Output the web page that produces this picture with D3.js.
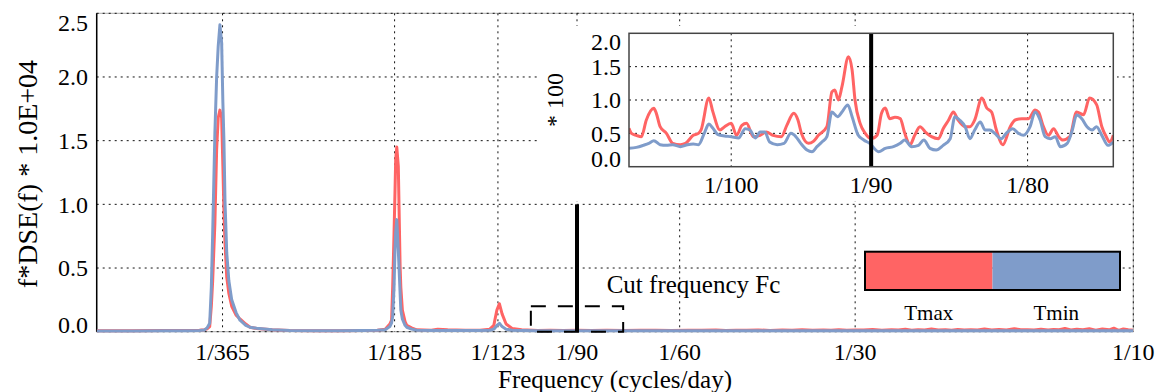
<!DOCTYPE html>
<html>
<head>
<meta charset="utf-8">
<script src="https://cdn.jsdelivr.net/npm/d3@7"></script>
<style>
  body { margin: 0; background: #fff; }
  svg { display: block; font-family: "Liberation Serif", "DejaVu Serif", serif; }
</style>
</head>
<body>
<svg id="chart" width="1159" height="392"></svg>
<script>
// ---- data ----
// main spectrum: period in days (x = 1/period), f*DSE(f) * 1e4
const mainPeriods = [600, 520, 460, 420, 400, 392, 388, 384, 381.5, 379.5, 376.2, 373.6, 371.3, 368.8, 366.3, 364.5, 363, 361.5, 359, 356, 352, 346, 340.7, 333, 327.5, 319, 300, 280, 250, 230, 210, 198, 192, 188.5, 187.2, 186.4, 185.4, 184.7, 184.2, 183.4, 182.3, 181, 180.5, 179.4, 177.5, 176.3, 173, 169.5, 160, 156, 150, 140, 132, 127, 125, 124.4, 123.5, 122.3, 121, 119.1, 116.3, 112, 105, 100, 95, 90, 85, 80, 75, 70, 66, 62, 58, 55, 52, 50, 48, 46, 44, 42, 40, 38.5, 37, 35.5, 34, 33, 32, 31, 30, 29, 28, 27, 26, 25.3, 24.6, 24, 23.4, 22.8, 22.2, 21.6, 21, 20.5, 20, 19.5, 19, 18.5, 18, 17.5, 17, 16.5, 16, 15.6, 15.2, 14.8, 14.4, 14, 13.7, 13.4, 13.1, 12.8, 12.5, 12.2, 11.9, 11.6, 11.3, 11, 10.8, 10.6, 10.4, 10.2, 10];
const mainTmax = [0.008, 0.008, 0.009, 0.010, 0.012, 0.016, 0.022, 0.040, 0.20, 0.40, 0.85, 1.43, 1.68, 1.74, 1.68, 1.30, 0.95, 0.70, 0.43, 0.30, 0.20, 0.13, 0.10, 0.06, 0.035, 0.025, 0.015, 0.010, 0.008, 0.008, 0.009, 0.012, 0.020, 0.06, 0.09, 0.35, 0.77, 1.10, 1.35, 1.45, 1.30, 0.51, 0.35, 0.17, 0.08, 0.05, 0.03, 0.015, 0.012, 0.020, 0.015, 0.012, 0.012, 0.020, 0.05, 0.10, 0.17, 0.22, 0.14, 0.06, 0.025, 0.015, 0.010, 0.012, 0.010, 0.012, 0.010, 0.012, 0.010, 0.012,
  0.011, 0.010, 0.012, 0.011, 0.013, 0.010, 0.012, 0.011, 0.014, 0.010, 0.013, 0.012, 0.015, 0.011, 0.013, 0.012, 0.016, 0.011, 0.014, 0.013, 0.018, 0.012, 0.015, 0.013, 0.019, 0.012, 0.016, 0.014, 0.021, 0.013, 0.015, 0.012, 0.018, 0.014, 0.016, 0.013, 0.022, 0.014, 0.017, 0.013, 0.024, 0.015, 0.016, 0.013, 0.020, 0.014, 0.018, 0.015, 0.026, 0.013, 0.019, 0.016, 0.024, 0.012, 0.021, 0.015, 0.028, 0.010, 0.022, 0.016, 0.012];
const mainTmin = [0.006, 0.006, 0.007, 0.008, 0.010, 0.014, 0.030, 0.066, 0.35, 0.77, 1.56, 2.00, 2.24, 2.41, 2.27, 1.80, 1.50, 1.03, 0.62, 0.40, 0.25, 0.15, 0.09, 0.05, 0.035, 0.027, 0.015, 0.010, 0.008, 0.008, 0.009, 0.011, 0.015, 0.04, 0.07, 0.12, 0.35, 0.64, 0.78, 0.88, 0.64, 0.30, 0.17, 0.10, 0.05, 0.035, 0.02, 0.012, 0.009, 0.010, 0.009, 0.009, 0.009, 0.012, 0.02, 0.03, 0.05, 0.066, 0.04, 0.02, 0.012, 0.010, 0.008, 0.008, 0.008, 0.008, 0.008, 0.008, 0.008, 0.008,
  0.008, 0.008, 0.008, 0.007, 0.008, 0.008, 0.008, 0.008, 0.007, 0.008, 0.008, 0.008, 0.008, 0.007, 0.008, 0.008, 0.008, 0.008, 0.008, 0.007, 0.008, 0.008, 0.008, 0.007, 0.008, 0.008, 0.008, 0.007, 0.008, 0.008, 0.008, 0.007, 0.008, 0.008, 0.007, 0.008, 0.008, 0.007, 0.008, 0.008, 0.008, 0.007, 0.008, 0.008, 0.008, 0.007, 0.008, 0.008, 0.008, 0.007, 0.008, 0.008, 0.008, 0.007, 0.008, 0.008, 0.008, 0.007, 0.008, 0.008, 0.008];

// zoom window (values * 100)
const insetTmaxPeriods = [108, 107.8, 107.4, 107, 106.6, 106, 105.8, 105.5, 105, 104.5, 103.9, 103.5, 102.9, 102.5, 102.3, 101.7, 101.4, 100.85, 100.5, 100, 99.6, 99.2, 98.85, 98.35, 97.85, 97.4, 96.9, 96.3, 95.9, 95.4, 95.1, 94.85, 94.35, 94, 93.65, 93.05, 92.7, 92.5, 92.25, 92, 91.55, 91.3, 91.1, 90.75, 90.4, 90, 89.6, 89.3, 89.05, 88.75, 88.4, 88.05, 87.75, 87.4, 87.1, 86.75, 86.4, 86, 85.55, 85.25, 84.9, 84.6, 84.3, 83.85, 83.55, 83.25, 82.8, 82.5, 82.2, 81.9, 81.5, 81.05, 80.75, 80.35, 79.95, 79.55, 79.35, 79.05, 78.75, 78.45, 78.15, 77.9, 77.5, 77.1, 76.7, 76.35, 75.95, 75.65, 75.4, 75.2, 75];
const insetTmaxValues = [0.575, 0.50, 0.47, 0.45, 0.70, 0.875, 0.80, 0.60, 0.50, 0.35, 0.33, 0.35, 0.47, 0.50, 0.55, 1.03, 0.83, 0.55, 0.60, 0.65, 0.47, 0.62, 0.65, 0.45, 0.47, 0.52, 0.47, 0.45, 0.62, 0.80, 0.70, 0.50, 0.35, 0.38, 0.47, 0.60, 1.12, 1.15, 1.00, 1.20, 1.65, 1.45, 1.00, 0.65, 0.50, 0.42, 0.47, 0.80, 0.88, 0.72, 0.74, 0.72, 0.50, 0.33, 0.47, 0.60, 0.52, 0.45, 0.42, 0.57, 0.70, 0.82, 0.70, 0.60, 0.60, 0.70, 1.03, 0.88, 0.82, 0.55, 0.33, 0.60, 0.70, 0.72, 0.72, 0.85, 0.82, 0.60, 0.47, 0.57, 0.45, 0.40, 0.45, 0.82, 0.78, 1.03, 0.93, 0.60, 0.45, 0.37, 0.47];
const insetTminPeriods = [108, 107.4, 106.85, 106.4, 106, 105.5, 105, 104.5, 103.9, 103.35, 102.9, 102.5, 102.05, 101.7, 101.4, 101, 100.5, 100, 99.45, 98.95, 98.6, 98.2, 97.85, 97.5, 97.15, 96.6, 96.1, 95.6, 95.25, 94.9, 94.45, 94.1, 93.75, 93.4, 93.05, 92.7, 92.3, 92, 91.6, 91.3, 90.9, 90.5, 90.1, 89.5, 89.05, 88.5, 88.05, 87.75, 87.3, 86.85, 86.5, 86.1, 85.7, 85.25, 84.8, 84.5, 84.2, 83.85, 83.55, 83.25, 82.9, 82.6, 82.3, 82, 81.6, 81.3, 80.9, 80.55, 80.25, 79.85, 79.55, 79.25, 78.95, 78.65, 78.35, 78.05, 77.65, 77.35, 77.1, 76.8, 76.5, 76.2, 75.95, 75.65, 75.3, 75];
const insetTminValues = [0.275, 0.29, 0.32, 0.35, 0.39, 0.33, 0.32, 0.33, 0.30, 0.33, 0.34, 0.33, 0.50, 0.64, 0.58, 0.48, 0.46, 0.45, 0.43, 0.57, 0.55, 0.43, 0.52, 0.52, 0.37, 0.33, 0.35, 0.50, 0.45, 0.35, 0.25, 0.225, 0.30, 0.37, 0.45, 0.82, 0.75, 0.82, 0.925, 0.75, 0.48, 0.40, 0.35, 0.225, 0.275, 0.30, 0.35, 0.40, 0.30, 0.32, 0.40, 0.275, 0.25, 0.32, 0.42, 0.75, 0.70, 0.60, 0.42, 0.55, 0.67, 0.55, 0.55, 0.50, 0.42, 0.50, 0.57, 0.50, 0.47, 0.60, 0.82, 0.70, 0.45, 0.42, 0.45, 0.30, 0.35, 0.55, 0.775, 0.72, 0.60, 0.55, 0.60, 0.47, 0.32, 0.37];

// ticks
const mainXTicks = [365, 185, 123, 90, 60, 30, 10];
const mainYTicks = [0, 0.5, 1.0, 1.5, 2.0, 2.5];
const insetXTicks = [100, 90, 80];
const insetYTicks = [0, 0.5, 1.0, 1.5, 2.0];
const cutPeriod = 90;
const seriesNames = ["Tmax", "Tmin"];
const colors = ["#ff6464", "#7f9cca"];

const svg = d3.select("#chart");

// ---- main plot ----
const M = { left: 96.7, right: 1133.3, top: 13.3, bottom: 331.7 };
const x = d3.scaleLog().domain([1 / 600, 1 / 10]).range([M.left, M.right]);
const y = d3.scaleLinear().domain([0, 2.5]).range([M.bottom, M.top]);

svg.append("clipPath").attr("id", "clipMain")
  .append("rect")
  .attr("x", M.left).attr("y", M.top - 5)
  .attr("width", M.right - M.left).attr("height", M.bottom - M.top + 8);

// frame (light) then dotted grid
svg.append("rect")
  .attr("x", M.left).attr("y", M.top)
  .attr("width", M.right - M.left).attr("height", M.bottom - M.top)
  .attr("fill", "none").attr("stroke", "#aaa").attr("stroke-width", 1);

const grid = svg.append("g").attr("stroke", "#111").attr("stroke-width", 1).attr("stroke-dasharray", "2,4");
grid.selectAll(".gx").data(mainXTicks).join("line")
  .attr("x1", d => x(1 / d)).attr("x2", d => x(1 / d))
  .attr("y1", M.top).attr("y2", M.bottom);
grid.selectAll(".gy").data(mainYTicks).join("line")
  .attr("x1", M.left).attr("x2", M.right)
  .attr("y1", d => y(d)).attr("y2", d => y(d));

svg.append("line")
  .attr("x1", M.left).attr("x2", M.left)
  .attr("y1", M.top).attr("y2", M.bottom)
  .attr("stroke", "#000").attr("stroke-width", 1.5);

// tick labels
svg.append("g").selectAll("text").data(mainXTicks).join("text")
  .attr("x", d => x(1 / d)).attr("y", 359.5)
  .attr("text-anchor", "middle").style("font-size", "24px")
  .text(d => "1/" + d);

svg.append("g").selectAll("text").data(mainYTicks).join("text")
  .attr("x", 88)
  .attr("y", d => Math.min(Math.max(y(d), M.top + 9.5), M.bottom - 7))
  .attr("dy", "0.34em")
  .attr("text-anchor", "end").style("font-size", "24px")
  .text(d => d.toFixed(1));

svg.append("text")
  .attr("x", (M.left + M.right) / 2).attr("y", 388)
  .attr("text-anchor", "middle").style("font-size", "25px")
  .text("Frequency (cycles/day)");

svg.append("text")
  .attr("transform", "translate(37,174) rotate(-90)")
  .attr("text-anchor", "middle").style("font-size", "28px")
  .text("f*DSE(f) * 1.0E+04");

// spectra
const mainLine = d3.line()
  .x(d => x(1 / d[0]))
  .y(d => y(d[1]));

[mainTmax, mainTmin].forEach((vals, i) => {
  svg.append("path")
    .datum(mainPeriods.map((p, j) => [p, vals[j]]))
    .attr("clip-path", "url(#clipMain)")
    .attr("fill", "none")
    .attr("stroke", colors[i])
    .attr("stroke-width", 3)
    .attr("stroke-linejoin", "round")
    .attr("d", mainLine);
});

// cut frequency
svg.append("line")
  .attr("x1", x(1 / cutPeriod)).attr("x2", x(1 / cutPeriod))
  .attr("y1", y(0)).attr("y2", y(1.0))
  .attr("stroke", "#000").attr("stroke-width", 4);

svg.append("text")
  .attr("x", 606.7).attr("y", 293.3)
  .style("font-size", "25px")
  .text("Cut frequency Fc");

// dashed box marking the zoom window
svg.append("rect")
  .attr("x", x(1 / 108)).attr("y", y(0.2))
  .attr("width", x(1 / 75) - x(1 / 108)).attr("height", y(0) - y(0.2))
  .attr("fill", "none").attr("stroke", "#000").attr("stroke-width", 2)
  .attr("stroke-dasharray", "15,12");

// ---- inset ----
const I = { left: 629, right: 1113.3, top: 33.3, bottom: 166.7 };
const xi = d3.scaleLog().domain([1 / 108, 1 / 75]).range([I.left, I.right]);
const yi = d3.scaleLinear().domain([0, 2.0]).range([I.bottom, I.top]);

svg.append("rect")
  .attr("x", 538).attr("y", 26)
  .attr("width", 1117 - 538).attr("height", 201 - 26)
  .attr("fill", "#fff");

svg.append("clipPath").attr("id", "clipInset")
  .append("rect")
  .attr("x", I.left).attr("y", I.top)
  .attr("width", I.right - I.left).attr("height", I.bottom - I.top);

const igrid = svg.append("g").attr("stroke", "#111").attr("stroke-width", 1).attr("stroke-dasharray", "2,4");
igrid.selectAll(".gx").data(insetXTicks).join("line")
  .attr("x1", d => xi(1 / d)).attr("x2", d => xi(1 / d))
  .attr("y1", I.top).attr("y2", I.bottom);
igrid.selectAll(".gy").data(insetYTicks.slice(1, -1)).join("line")
  .attr("x1", I.left).attr("x2", I.right)
  .attr("y1", d => yi(d)).attr("y2", d => yi(d));

const insetLine = d3.line()
  .curve(d3.curveMonotoneX)
  .x(d => xi(1 / d[0]))
  .y(d => yi(d[1]));

[[insetTmaxPeriods, insetTmaxValues], [insetTminPeriods, insetTminValues]].forEach(([ps, vs], i) => {
  svg.append("path")
    .datum(ps.map((p, j) => [p, vs[j]]))
    .attr("clip-path", "url(#clipInset)")
    .attr("fill", "none")
    .attr("stroke", colors[i])
    .attr("stroke-width", 3)
    .attr("stroke-linejoin", "round")
    .attr("d", insetLine);
});

svg.append("line")
  .attr("x1", xi(1 / cutPeriod)).attr("x2", xi(1 / cutPeriod))
  .attr("y1", I.top).attr("y2", I.bottom)
  .attr("stroke", "#000").attr("stroke-width", 4);

svg.append("rect")
  .attr("x", I.left).attr("y", I.top)
  .attr("width", I.right - I.left).attr("height", I.bottom - I.top)
  .attr("fill", "none").attr("stroke", "#444").attr("stroke-width", 1.5);

svg.append("g").selectAll("text").data(insetXTicks).join("text")
  .attr("x", d => xi(1 / d)).attr("y", 193)
  .attr("text-anchor", "middle").style("font-size", "24px")
  .text(d => "1/" + d);

svg.append("g").selectAll("text").data(insetYTicks).join("text")
  .attr("x", 621)
  .attr("y", d => Math.min(Math.max(yi(d), I.top + 9), I.bottom - 8))
  .attr("dy", "0.34em")
  .attr("text-anchor", "end").style("font-size", "24px")
  .text(d => d.toFixed(1));

svg.append("text")
  .attr("transform", `translate(563,${(I.top + I.bottom) / 2}) rotate(-90)`)
  .attr("text-anchor", "middle").style("font-size", "24px")
  .text("* 100");

// ---- legend ----
const L = { x: 865, y: 251.7, w: 255, h: 38.3 };
const lx = d3.scaleBand().domain(seriesNames).range([L.x, L.x + L.w]);
svg.append("g").selectAll("rect").data(seriesNames).join("rect")
  .attr("x", d => lx(d)).attr("y", L.y)
  .attr("width", lx.bandwidth()).attr("height", L.h)
  .attr("fill", (d, i) => colors[i]);
svg.append("rect")
  .attr("x", L.x).attr("y", L.y).attr("width", L.w).attr("height", L.h)
  .attr("fill", "none").attr("stroke", "#000").attr("stroke-width", 2);
svg.append("g").selectAll("text").data(seriesNames).join("text")
  .attr("x", d => lx(d) + lx.bandwidth() / 2).attr("y", 320)
  .attr("text-anchor", "middle").style("font-size", "21px")
  .text(d => d);
</script>
</body>
</html>
